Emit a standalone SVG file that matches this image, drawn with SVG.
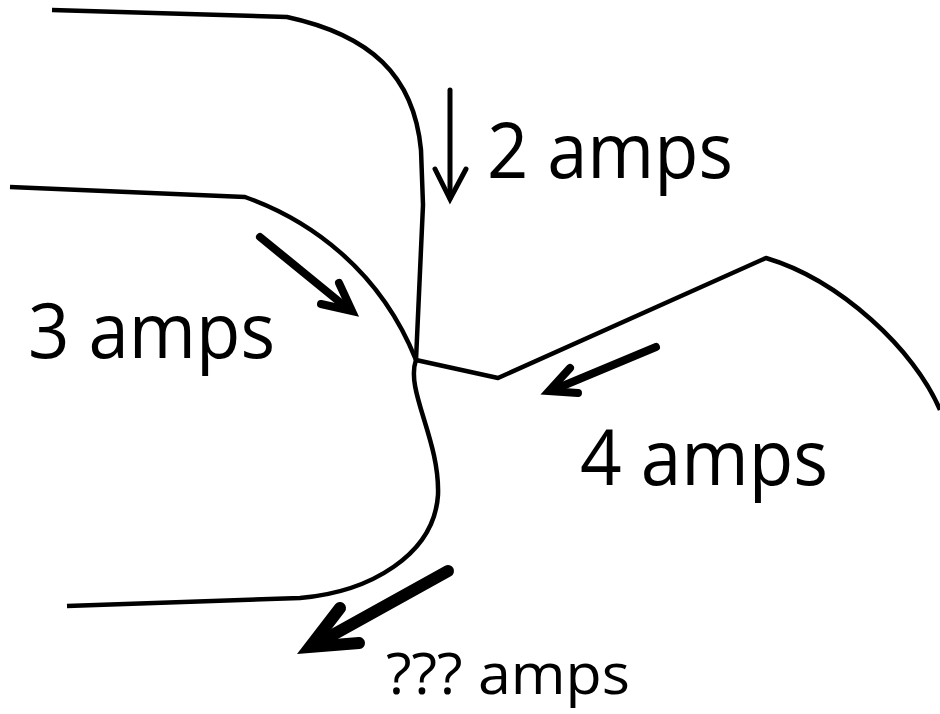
<svg xmlns="http://www.w3.org/2000/svg" width="940" height="714" viewBox="0 0 940 714">
<style>
.wire{fill:none;stroke:#000;stroke-width:4.5;stroke-linejoin:round;stroke-linecap:butt}
.arr{fill:none;stroke:#000;stroke-linecap:round;stroke-linejoin:miter}
.lbl{font-family:"Open Sans","Liberation Sans",sans-serif;fill:#000}
</style>
<rect width="940" height="714" fill="#fff"/>
<g id="connectors">
<path id="wire-top" class="wire" d="M52,10 L287,17 C370,35 414,75 421,150 L423,205 L416,360"/>
<path id="wire-left" class="wire" d="M10,187 L245,197 C310,220 380,270 416,360"/>
<path id="wire-right" class="wire" d="M416,360 L498,378 L766,258 C840,280 915,350 940,410"/>
<path id="wire-bottom" class="wire" d="M416,360 C405,390 440,440 438,495 C434,555 370,592 300,598 L67,606"/>
</g>
<g id="arrow-2">
<path class="arr" stroke-width="5" d="M450,90 L450,198"/>
<path class="arr" stroke-width="5" d="M435,169 L450,199 L466,169"/>
</g>
<g id="arrow-3">
<path class="arr" stroke-width="8" d="M260,237 L347,308"/>
<path class="arr" stroke-width="8" d="M339,283 L352,311 L321,304"/>
</g>
<g id="arrow-4">
<path class="arr" stroke-width="8" d="M656,347 L553,390"/>
<path class="arr" stroke-width="8" d="M570,368 L549,391 L578,393"/>
</g>
<g id="arrow-out">
<path class="arr" stroke-width="12" d="M448,571 L320,642"/>
<path class="arr" stroke-width="12" d="M340,608 L310,647 L359,643"/>
</g>
<g id="label-2"><text class="lbl" x="487" y="178" font-size="76" textLength="246" lengthAdjust="spacingAndGlyphs">2 amps</text></g>
<g id="label-3"><text class="lbl" x="28" y="358" font-size="76" textLength="247" lengthAdjust="spacingAndGlyphs">3 amps</text></g>
<g id="label-4"><text class="lbl" x="580" y="485" font-size="76" textLength="248" lengthAdjust="spacingAndGlyphs">4 amps</text></g>
<g id="label-out"><text class="lbl" x="386" y="694" font-size="56" textLength="244" lengthAdjust="spacingAndGlyphs">??? amps</text></g>
</svg>
